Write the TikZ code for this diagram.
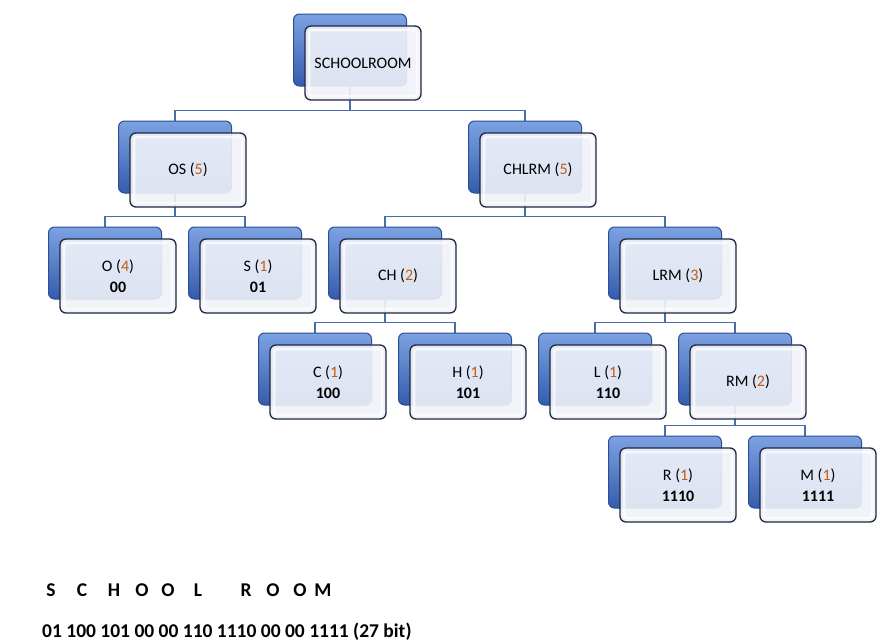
\documentclass[tikz,border=0pt]{standalone}
\usepackage{fontspec}
\setmainfont{Carlito}
\usetikzlibrary{positioning}

\pgfdeclarelayer{bg}
\pgfsetlayers{bg,main}

\definecolor{linkblue}{RGB}{72,110,172}
\definecolor{backtop}{RGB}{125,162,226}
\definecolor{backbot}{RGB}{52,92,172}
\definecolor{backline}{RGB}{44,78,148}
\definecolor{frontfill}{RGB}{240,242,249}
\definecolor{frontline}{RGB}{30,40,66}
\definecolor{weight}{RGB}{197,90,17}

% weight in brackets, number in orange
\newcommand{\wt}[1]{(\textcolor{weight}{#1})}

\tikzset{
  back/.style={draw=backline, line width=1pt, rounded corners=6pt,
    top color=backtop, bottom color=backbot,
    minimum width=113pt, minimum height=72pt, inner sep=0pt},
  front/.style={draw=frontline, line width=1.3pt, rounded corners=6pt,
    fill=frontfill, fill opacity=0.9, text opacity=1,
    minimum width=116pt, minimum height=74pt, inner sep=0pt,
    align=center, font=\fontsize{16}{21}\selectfont,
    path picture={\draw[white, opacity=0.7, line width=2.5pt, rounded corners=3pt]
      ([shift={(4pt,4pt)}]path picture bounding box.south west) rectangle
      ([shift={(-4pt,-4pt)}]path picture bounding box.north east);}},
  link/.style={draw=linkblue, line width=1.4pt,
    to path={(\tikztostart) |- ([yshift=10pt]\tikztotarget) -- (\tikztotarget)}},
  letter/.style={font=\bfseries\fontsize{19.5}{22}\selectfont, inner sep=0pt},
}

\begin{document}
\begin{tikzpicture}[x=1pt, y=-1pt]
  \useasboundingbox (0,0) rectangle (879,643);

  % root
  \node[back] (root-b) at (350,50) {};
  \node[front] (root) at (363,63) {SCHOOLROOM};

  % first split
  \node[back] (os-b) at (175,157) {};
  \node[front] (os) at (188,170) {OS \wt{5}};
  \node[back] (chlrm-b) at (525,157) {};
  \node[front] (chlrm) at (538,170) {CHLRM \wt{5}};

  % second level
  \node[back] (o-b) at (105,263) {};
  \node[front] (o) at (118,276) {O \wt{4}\\\textbf{00}};
  \node[back] (s-b) at (245,263) {};
  \node[front] (s) at (258,276) {S \wt{1}\\\textbf{01}};
  \node[back] (ch-b) at (385,263) {};
  \node[front] (ch) at (398,276) {CH \wt{2}};
  \node[back] (lrm-b) at (665,263) {};
  \node[front] (lrm) at (678,276) {LRM \wt{3}};

  % third level
  \node[back] (c-b) at (315,369) {};
  \node[front] (c) at (328,382) {C \wt{1}\\\textbf{100}};
  \node[back] (h-b) at (455,369) {};
  \node[front] (h) at (468,382) {H \wt{1}\\\textbf{101}};
  \node[back] (l-b) at (595,369) {};
  \node[front] (l) at (608,382) {L \wt{1}\\\textbf{110}};
  \node[back] (rm-b) at (735,369) {};
  \node[front] (rm) at (748,382) {RM \wt{2}};

  % last level
  \node[back] (r-b) at (665,472) {};
  \node[front] (r) at (678,485) {R \wt{1}\\\textbf{1110}};
  \node[back] (m-b) at (805,472) {};
  \node[front] (m) at (818,485) {M \wt{1}\\\textbf{1111}};

  \begin{pgfonlayer}{bg}
    \fill[white] (0,0) rectangle (879,643);
    \draw[link] (root-b.south) to (os-b.north);
    \draw[link] (root-b.south) to (chlrm-b.north);
    \draw[link] (os-b.south) to (o-b.north);
    \draw[link] (os-b.south) to (s-b.north);
    \draw[link] (chlrm-b.south) to (ch-b.north);
    \draw[link] (chlrm-b.south) to (lrm-b.north);
    \draw[link] (ch-b.south) to (c-b.north);
    \draw[link] (ch-b.south) to (h-b.north);
    \draw[link] (lrm-b.south) to (l-b.north);
    \draw[link] (lrm-b.south) to (rm-b.north);
    \draw[link] (rm-b.south) to (r-b.north);
    \draw[link] (rm-b.south) to (m-b.north);
  \end{pgfonlayer}

  % the word, one letter over each code
  \foreach \ch/\x in {S/51,C/82,H/114,O/142,O/168,L/198,R/246,O/273,O/300,M/323}
    \node[letter] (ltr\x) at (\x,590) {\ch};
  \node[letter, anchor=west] (code) at (42,632)
    {01 100 101 00 00 110 1110 00 00 1111 (27 bit)};
\end{tikzpicture}
\end{document}
